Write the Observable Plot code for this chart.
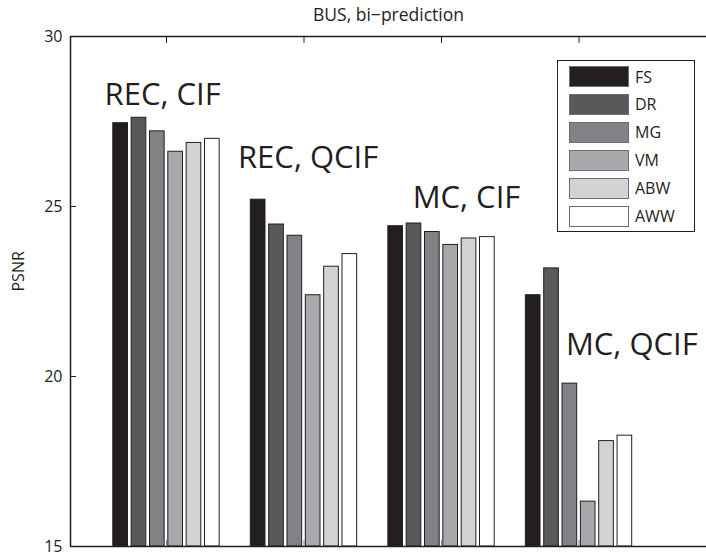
<!DOCTYPE html>
<html>
<head>
<meta charset="utf-8">
<script src="https://cdn.jsdelivr.net/npm/d3@7"></script>
<script src="https://cdn.jsdelivr.net/npm/@observablehq/plot@0.6"></script>
<style>
  html, body { margin: 0; padding: 0; background: #fff; }
  #wrap { position: relative; width: 706px; height: 556px; font-family: "Open Sans", "DejaVu Sans", sans-serif; }
  #legend { position: absolute; left: 557px; top: 60px; width: 136px; height: 170px; border: 1.5px solid #231f20; background: #fff; }
  .item { position: absolute; left: 11px; height: 21px; display: flex; align-items: center; }
  .sw { width: 58px; height: 19px; border: 1px solid #6d6e71; }
  .lab { margin-left: 6px; font-size: 16px; color: #231f20; }
</style>
</head>
<body>
<div id="wrap"></div>
<script>
// ---- data ----
const groups = ["REC, CIF", "REC, QCIF", "MC, CIF", "MC, QCIF"];
const series = ["FS", "DR", "MG", "VM", "ABW", "AWW"];
const colors = ["#231f20", "#58595b", "#808285", "#a7a9ac", "#d1d3d4", "#ffffff"];
const FS  = [27.45, 25.20, 24.42, 22.39];
const DR  = [27.61, 24.47, 24.50, 23.18];
const MG  = [27.21, 24.14, 24.25, 19.79];
const VM  = [26.61, 22.39, 23.87, 16.32];
const ABW = [26.87, 23.23, 24.06, 18.10];
const AWW = [26.99, 23.60, 24.10, 18.26];
const yTicks = [15, 20, 25, 30];
const groupLabelX = [0.55, 1.52, 2.79, 3.905];
const groupLabelY = [28.27, 26.41, 25.26, 20.91];
const title = "BUS, bi\u2212prediction";
const yLabel = "PSNR";

// ---- build table ----
const values = [FS, DR, MG, VM, ABW, AWW];
const pitch = 0.8 / series.length;
const half = pitch * 0.4;
const rows = [];
groups.forEach((g, gi) => {
  series.forEach((s, si) => {
    const xc = gi + 1 + (si - (series.length - 1) / 2) * pitch;
    rows.push({group: g, series: s, value: values[si][gi], x1: xc - half, x2: xc + half, color: colors[si]});
  });
});
const labels = groups.map((g, i) => ({text: g, x: groupLabelX[i], y: groupLabelY[i]}));
const centers = groups.map((g, i) => i + 1);
const ink = "#231f20";

const chart = Plot.plot({
  width: 706,
  height: 556,
  marginLeft: 70,
  marginRight: 0,
  marginTop: 36,
  marginBottom: 10,
  style: {fontFamily: '"Open Sans", "DejaVu Sans", sans-serif', color: ink, background: "#fff", overflow: "visible"},
  x: {type: "linear", domain: [0.302, 4.927], axis: null},
  y: {domain: [15, 30], axis: null},
  marks: [
    Plot.axisX(centers, {anchor: "bottom", tickSize: 6, dy: -6, text: null, stroke: "#888", strokeWidth: 1}),
    Plot.rectY(rows, {x1: "x1", x2: "x2", y1: 15, y2: "value", fill: "color", stroke: ink, strokeWidth: 1}),
    Plot.ruleX([0.302], {stroke: ink, strokeWidth: 1.5}),
    Plot.ruleY([15, 30], {stroke: ink, strokeWidth: 1.5}),
    Plot.axisX(centers, {anchor: "top", tickSize: 6, dy: 6, text: null, stroke: ink, strokeWidth: 1}),
    Plot.axisY([20, 25], {anchor: "left", tickSize: 6, dx: 6, text: null, stroke: ink, strokeWidth: 1}),
    Plot.axisY(yTicks, {anchor: "left", tickSize: 0, tickPadding: 8, fontSize: 16, fill: ink, label: null}),
    Plot.text(labels, {x: "x", y: "y", text: "text", textAnchor: "start", lineAnchor: "middle", fontSize: 31, fill: ink}),
    Plot.text([title], {frameAnchor: "top", dy: -28, fontSize: 17.5, fill: ink}),
    Plot.text([yLabel], {frameAnchor: "left", dx: -52, rotate: -90, fontSize: 16, fill: ink})
  ]
});

const wrap = document.getElementById("wrap");
wrap.appendChild(chart);

const legend = document.createElement("div");
legend.id = "legend";
series.forEach((s, i) => {
  const it = document.createElement("div");
  it.className = "item";
  it.style.top = (5 + i * 27.9) + "px";
  const sw = document.createElement("div");
  sw.className = "sw";
  sw.style.background = colors[i];
  const lab = document.createElement("span");
  lab.className = "lab";
  lab.textContent = s;
  it.appendChild(sw);
  it.appendChild(lab);
  legend.appendChild(it);
});
wrap.appendChild(legend);
</script>
</body>
</html>
